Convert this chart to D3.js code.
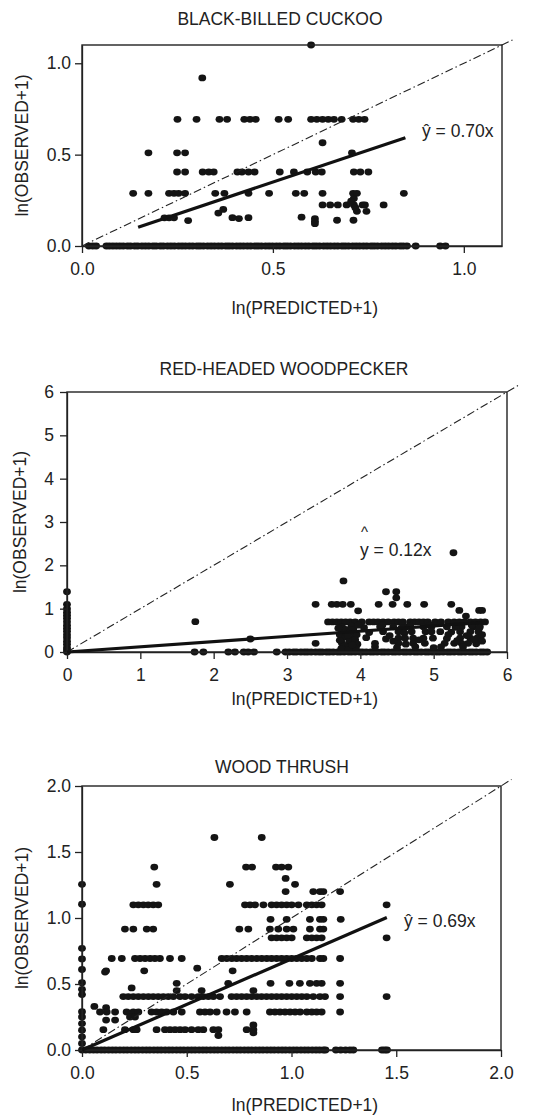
<!DOCTYPE html>
<html>
<head>
<meta charset="utf-8">
<script src="https://cdn.jsdelivr.net/npm/d3@7"></script>
<style>
body { margin: 0; background: #fff; }
svg text { font-family: "Liberation Sans", Arial, sans-serif; fill: #222; }
.axis path, .axis line { stroke: #222; stroke-width: 1.3; }
</style>
</head>
<body>
<div id="vis"></div>
<script>
// Scatter plots of observed vs predicted abundance for three species
//
// Data are read off the figure: each panel has the points lying on the
// y = 0 row, the points lying on the x = 0 column, and the rest as pairs.

/* *************************** Data ***************************** */

// Black-billed cuckoo
var bbcTicks = [0, 0.5, 1.0];
var bbcSlope = 0.70;
var bbcFitRange = [0.147, 0.847];
var bbcZeroX = [0.018, 0.028, 0.037, 0.064, 0.072, 0.081, 0.09, 0.099, 0.108, 0.119, 0.127, 0.138, 0.146,
    0.157, 0.166, 0.175, 0.186, 0.194, 0.205, 0.213, 0.224, 0.233, 0.242, 0.253, 0.262, 0.271, 0.281,
    0.29, 0.301, 0.309, 0.318, 0.329, 0.338, 0.347, 0.357, 0.366, 0.377, 0.385, 0.394, 0.405, 0.414,
    0.423, 0.433, 0.442, 0.453, 0.461, 0.47, 0.481, 0.49, 0.499, 0.509, 0.518, 0.529, 0.537, 0.546,
    0.557, 0.566, 0.575, 0.585, 0.594, 0.605, 0.613, 0.622, 0.633, 0.642, 0.651, 0.661, 0.67, 0.681,
    0.689, 0.698, 0.709, 0.718, 0.727, 0.737, 0.746, 0.757, 0.765, 0.774, 0.785, 0.794, 0.803, 0.813,
    0.822, 0.833, 0.841, 0.851, 0.874, 0.938, 0.952];
var bbcAxisY = [];
var bbcPoints = [
    [0.60, 1.10], [0.315, 0.92],
    [0.25, 0.693], [0.30, 0.693], [0.36, 0.693], [0.38, 0.693], [0.425, 0.693], [0.44, 0.693],
    [0.455, 0.693], [0.515, 0.693], [0.54, 0.693], [0.60, 0.693], [0.615, 0.693], [0.63, 0.693],
    [0.645, 0.693], [0.66, 0.693], [0.68, 0.693], [0.71, 0.693], [0.725, 0.693], [0.74, 0.693],
    [0.63, 0.565],
    [0.174, 0.51], [0.249, 0.51], [0.27, 0.51], [0.707, 0.51],
    [0.249, 0.405], [0.27, 0.405], [0.316, 0.405], [0.332, 0.405], [0.345, 0.405], [0.407, 0.405],
    [0.419, 0.405], [0.436, 0.405], [0.452, 0.405], [0.518, 0.405], [0.555, 0.405], [0.59, 0.405],
    [0.612, 0.405], [0.628, 0.405], [0.712, 0.405], [0.729, 0.405], [0.75, 0.405],
    [0.134, 0.288], [0.174, 0.288], [0.228, 0.288], [0.241, 0.288], [0.253, 0.288], [0.27, 0.288],
    [0.349, 0.288], [0.373, 0.288], [0.436, 0.288], [0.49, 0.288], [0.56, 0.288], [0.582, 0.288],
    [0.63, 0.288], [0.71, 0.288], [0.72, 0.288], [0.843, 0.288],
    [0.63, 0.225], [0.65, 0.225], [0.67, 0.225], [0.693, 0.225], [0.712, 0.225], [0.735, 0.225],
    [0.741, 0.225], [0.79, 0.225],
    [0.712, 0.26], [0.72, 0.19], [0.745, 0.19], [0.716, 0.21], [0.705, 0.245],
    [0.216, 0.154], [0.228, 0.154], [0.241, 0.154], [0.278, 0.139], [0.357, 0.18], [0.37, 0.2],
    [0.394, 0.155], [0.411, 0.15], [0.436, 0.155], [0.575, 0.158], [0.61, 0.15], [0.61, 0.135],
    [0.61, 0.122], [0.668, 0.141], [0.711, 0.141]
];

// Red-headed woodpecker
var rhwTicks = [0, 1, 2, 3, 4, 5, 6];
var rhwSlope = 0.12;
var rhwFitRange = [0, 5.73];
var rhwZeroX = [0, 1.74, 1.86, 2.2, 2.29, 2.41, 2.47, 2.55, 2.86, 2.98, 3.03, 3.09, 3.13, 3.19, 3.24,
    3.28, 3.33, 3.39, 3.44, 3.48, 3.54, 3.58, 3.63, 3.69, 3.73, 3.78, 3.84, 3.88, 3.93, 3.99, 4.03,
    4.08, 4.14, 4.18, 4.23, 4.29, 4.33, 4.38, 4.44, 4.48, 4.53, 4.59, 4.63, 4.68, 4.74, 4.78, 4.83,
    4.89, 4.93, 4.98, 5.04, 5.08, 5.13, 5.19, 5.23, 5.28, 5.34, 5.38, 5.43, 5.49, 5.53, 5.58, 5.64,
    5.68, 5.73];
var rhwAxisY = [1.39, 1.1, 1.0, 0.92, 0.85, 0.78, 0.7, 0.62, 0.55, 0.48, 0.4, 0.33, 0.25, 0.18, 0.1, 0.05];
var rhwPoints = [
    [1.75, 0.70], [2.5, 0.30], [3.77, 1.64], [4.35, 1.39], [4.49, 1.39], [4.49, 1.25], [5.27, 2.29],
    [3.97, 0.95], [5.35, 0.96], [5.44, 0.83], [5.62, 0.96], [5.66, 0.96],
    [3.39, 1.1], [3.61, 1.1], [3.68, 1.1], [3.76, 1.1], [3.87, 1.1], [4.25, 1.1], [4.44, 1.1],
    [4.64, 1.1], [4.87, 1.1], [5.24, 1.1],
    [3.56, 0.693], [3.62, 0.693], [3.68, 0.693], [3.74, 0.693], [3.8, 0.693], [3.86, 0.693],
    [3.93, 0.693], [4.02, 0.693], [4.12, 0.693], [4.18, 0.693], [4.24, 0.693], [4.31, 0.693],
    [4.38, 0.693], [4.46, 0.693], [4.52, 0.693], [4.58, 0.693], [4.68, 0.693], [4.74, 0.693],
    [4.8, 0.693], [4.86, 0.693], [4.92, 0.693], [5.02, 0.693], [5.1, 0.693], [5.2, 0.693],
    [5.28, 0.693], [5.35, 0.693], [5.42, 0.693], [5.5, 0.693], [5.57, 0.693], [5.64, 0.693], [5.7, 0.693],
    [3.75, 0.58], [3.91, 0.58], [4.27, 0.58], [4.45, 0.58], [4.63, 0.58], [4.86, 0.58], [4.97, 0.58],
    [5.18, 0.58], [5.38, 0.58], [5.54, 0.58], [5.63, 0.58], [4.05, 0.56], [4.56, 0.55], [5.3, 0.57],
    [3.75, 0.47], [3.91, 0.47], [4.31, 0.47], [4.52, 0.47], [4.7, 0.47], [4.89, 0.47], [4.97, 0.47],
    [5.09, 0.47], [5.36, 0.47], [5.5, 0.47], [5.61, 0.47], [4.12, 0.45], [4.6, 0.44], [5.24, 0.46],
    [3.75, 0.32], [3.91, 0.32], [4.52, 0.32], [4.61, 0.32], [4.72, 0.32], [4.86, 0.32], [4.99, 0.32],
    [5.36, 0.32], [5.5, 0.32], [4.08, 0.33], [4.35, 0.3], [5.18, 0.31], [5.6, 0.33],
    [3.39, 0.2], [3.75, 0.2], [3.91, 0.2], [4.2, 0.2], [4.52, 0.2], [4.72, 0.2], [4.88, 0.2],
    [5.15, 0.2], [5.38, 0.2], [5.47, 0.2], [4.62, 0.18], [5.28, 0.2], [5.58, 0.19],
    [3.72, 0.4], [3.8, 0.35], [3.85, 0.25], [3.82, 0.12], [3.9, 0.1], [3.95, 0.4], [3.8, 0.52],
    [3.88, 0.6], [3.93, 0.28], [3.78, 0.15], [3.86, 0.45], [3.96, 0.18], [3.72, 0.27], [3.9, 0.52],
    [3.74, 0.08], [3.84, 0.06], [3.94, 0.1], [3.7, 0.55], [3.97, 0.62], [3.83, 0.38], [3.89, 0.16],
    [4.2, 0.12], [4.4, 0.38], [4.45, 0.25], [5.1, 0.12], [5.4, 0.12], [5.55, 0.28], [5.2, 0.4],
    [4.8, 0.28], [5.62, 0.55], [4.5, 0.1], [4.75, 0.12], [5.0, 0.1], [5.45, 0.38], [5.32, 0.26],
    [4.95, 0.62], [4.3, 0.62], [5.52, 0.62], [4.68, 0.6], [5.66, 0.4], [5.66, 0.25]
];

// Wood thrush
var wtTicks = [0, 0.5, 1.0, 1.5, 2.0];
var wtSlope = 0.69;
var wtFitRange = [0, 1.455];
var wtZeroX = [0, 0.018, 0.037, 0.055, 0.072, 0.091, 0.108, 0.127, 0.145, 0.162, 0.181, 0.199, 0.216,
    0.235, 0.253, 0.27, 0.289, 0.307, 0.324, 0.343, 0.361, 0.378, 0.397, 0.415, 0.432, 0.451, 0.469,
    0.486, 0.505, 0.523, 0.54, 0.559, 0.577, 0.594, 0.613, 0.631, 0.648, 0.667, 0.685, 0.702, 0.721,
    0.739, 0.756, 0.775, 0.793, 0.81, 0.829, 0.847, 0.864, 0.883, 0.901, 0.918, 0.937, 0.955, 0.972,
    0.991, 1.009, 1.026, 1.045, 1.063, 1.08, 1.099, 1.117, 1.134, 1.152, 1.162,
    1.212, 1.235, 1.258, 1.279, 1.295, 1.432, 1.445, 1.456];
var wtAxisY = [1.255, 1.104, 0.77, 0.69, 0.61, 0.51, 0.46, 0.42, 0.29, 0.25, 0.2, 0.15, 0.1, 0.05];
var wtPoints = [
    [0.632, 1.61], [0.858, 1.61],
    [0.345, 1.386], [0.783, 1.386], [0.812, 1.386], [0.926, 1.386], [0.953, 1.386], [0.985, 1.386],
    [0.356, 1.255], [0.706, 1.255], [1.017, 1.255], [0.972, 1.3], [0.972, 1.2],
    [1.104, 1.2], [1.136, 1.2], [1.152, 1.2], [1.232, 1.2],
    [0.245, 1.1], [0.269, 1.1], [0.293, 1.1], [0.316, 1.1], [0.34, 1.1], [0.364, 1.1], [0.778, 1.1],
    [0.802, 1.1], [0.826, 1.1], [0.866, 1.1], [0.905, 1.1], [0.929, 1.1], [0.953, 1.1], [0.977, 1.1],
    [1.001, 1.1], [1.033, 1.1], [1.073, 1.1], [1.097, 1.1], [1.12, 1.1], [1.144, 1.1], [1.454, 1.1],
    [0.9, 0.99], [0.977, 0.99], [1.088, 0.99], [1.136, 0.99], [1.152, 0.99], [1.235, 0.99],
    [0.205, 0.916], [0.245, 0.916], [0.309, 0.916], [0.34, 0.916], [0.751, 0.916], [0.794, 0.916],
    [0.897, 0.916], [0.937, 0.916], [0.977, 0.916], [1.009, 0.916], [1.088, 0.916], [1.136, 0.916],
    [1.152, 0.916],
    [0.905, 0.85], [0.929, 0.85], [0.953, 0.85], [0.977, 0.85], [1.001, 0.85], [1.073, 0.85],
    [1.097, 0.85], [1.12, 0.85], [1.144, 0.85], [1.454, 0.85],
    [0.142, 0.693], [0.19, 0.693], [0.253, 0.693], [0.277, 0.693], [0.301, 0.693], [0.325, 0.693],
    [0.348, 0.693], [0.372, 0.693], [0.42, 0.693], [0.476, 0.693], [0.667, 0.693], [0.691, 0.693],
    [0.715, 0.693], [0.738, 0.693], [0.762, 0.693], [0.786, 0.693], [0.81, 0.693], [0.834, 0.693],
    [0.858, 0.693], [0.882, 0.693], [0.905, 0.693], [0.929, 0.693], [0.953, 0.693], [0.977, 0.693],
    [1.001, 0.693], [1.025, 0.693], [1.049, 0.693], [1.073, 0.693], [1.097, 0.693], [1.136, 0.693],
    [1.152, 0.693], [1.232, 0.693],
    [0.11, 0.59], [0.115, 0.6], [0.297, 0.6], [0.55, 0.62], [0.719, 0.6],
    [0.452, 0.505], [0.698, 0.505], [0.9, 0.505], [0.99, 0.505], [1.04, 0.505], [1.088, 0.505],
    [1.12, 0.505], [1.144, 0.505], [1.232, 0.505],
    [0.237, 0.47], [0.452, 0.45], [0.571, 0.45], [0.818, 0.45],
    [0.197, 0.405], [0.221, 0.405], [0.245, 0.405], [0.269, 0.405], [0.293, 0.405], [0.317, 0.405],
    [0.34, 0.405], [0.364, 0.405], [0.388, 0.405], [0.412, 0.405], [0.436, 0.405], [0.468, 0.405],
    [0.492, 0.405], [0.523, 0.405], [0.555, 0.405], [0.579, 0.405], [0.603, 0.405], [0.627, 0.405],
    [0.659, 0.405], [0.714, 0.405], [0.738, 0.405], [0.762, 0.405], [0.786, 0.405], [0.81, 0.405],
    [0.834, 0.405], [0.857, 0.405], [0.881, 0.405], [0.905, 0.405], [0.929, 0.405], [0.953, 0.405],
    [0.977, 0.405], [1.001, 0.405], [1.025, 0.405], [1.049, 0.405], [1.073, 0.405], [1.104, 0.405],
    [1.136, 0.405], [1.16, 0.405], [1.232, 0.405], [1.454, 0.405],
    [0.059, 0.33], [0.115, 0.32],
    [0.086, 0.288], [0.118, 0.288], [0.158, 0.288], [0.213, 0.288], [0.245, 0.288], [0.269, 0.288],
    [0.332, 0.288], [0.356, 0.288], [0.38, 0.288], [0.404, 0.288], [0.436, 0.288], [0.476, 0.288],
    [0.563, 0.288], [0.587, 0.288], [0.611, 0.288], [0.643, 0.288], [0.69, 0.288], [0.73, 0.288],
    [0.786, 0.288], [0.897, 0.288], [0.921, 0.288], [0.945, 0.288], [0.969, 0.288], [0.993, 0.288],
    [1.017, 0.288], [1.041, 0.288], [1.073, 0.288], [1.097, 0.288], [1.12, 0.288], [1.144, 0.288],
    [1.232, 0.288],
    [0.115, 0.227], [0.158, 0.227], [0.229, 0.25], [0.253, 0.25],
    [0.102, 0.154], [0.205, 0.154], [0.245, 0.154], [0.261, 0.154], [0.356, 0.154], [0.396, 0.154],
    [0.42, 0.154], [0.444, 0.154], [0.468, 0.154], [0.492, 0.154], [0.523, 0.154], [0.555, 0.154],
    [0.579, 0.154], [0.627, 0.154], [0.651, 0.154], [0.786, 0.154], [0.818, 0.154],
    [0.651, 0.11], [0.818, 0.19], [0.818, 0.13]
];

/* *************************** Settings ***************************** */

var width = 548;
var height = 1118;
var fontSize = '17.5px';

var panels = [
    {
        title: 'BLACK-BILLED CUCKOO', max: 1.1, ticks: bbcTicks, fmt: d3.format('.1f'),
        zeroX: bbcZeroX, axisY: bbcAxisY, points: bbcPoints, slope: bbcSlope, fit: bbcFitRange,
        eq: 'ŷ = 0.70x', hat: false,
        left: 82, right: 502, top: 45, bottom: 246, yPad: 4,
        titleX: 280, titleY: 25, xLabelY: 314, yLabelX: 22, eqX: 422, eqY: 137
    },
    {
        title: 'RED-HEADED WOODPECKER', max: 6, ticks: rhwTicks, fmt: d3.format('d'),
        zeroX: rhwZeroX, axisY: rhwAxisY, points: rhwPoints, slope: rhwSlope, fit: rhwFitRange,
        eq: 'y = 0.12x', hat: true,
        left: 67, right: 507, top: 392, bottom: 652, yPad: 6,
        titleX: 284, titleY: 375, xLabelY: 705, yLabelX: 20, eqX: 360, eqY: 556
    },
    {
        title: 'WOOD THRUSH', max: 2.0, ticks: wtTicks, fmt: d3.format('.1f'),
        zeroX: wtZeroX, axisY: wtAxisY, points: wtPoints, slope: wtSlope, fit: wtFitRange,
        eq: 'ŷ = 0.69x', hat: false,
        left: 82, right: 501, top: 786, bottom: 1050, yPad: 4,
        titleX: 282, titleY: 773, xLabelY: 1111, yLabelX: 22, eqX: 404, eqY: 927
    }
];

var svg = d3.select('#vis')
    .append('svg')
    .attr('width', width)
    .attr('height', height);

/* *************************** Draw function ***************************** */

var drawPanel = function(p) {
    var xScale = d3.scaleLinear().domain([0, p.max]).range([p.left, p.right]);
    var yScale = d3.scaleLinear().domain([0, p.max]).range([p.bottom, p.top]);

    var g = svg.append('g');

    // title
    g.append('text')
        .attr('x', p.titleX)
        .attr('y', p.titleY)
        .attr('text-anchor', 'middle')
        .style('font-size', fontSize)
        .text(p.title);

    // points: zero row, zero column, then the rest
    var data = p.zeroX.map(function(x) { return [x, 0]; })
        .concat(p.axisY.map(function(y) { return [0, y]; }))
        .concat(p.points);

    g.selectAll('ellipse')
        .data(data)
        .enter().append('ellipse')
        .attr('cx', function(d) { return xScale(d[0]); })
        .attr('cy', function(d) { return yScale(d[1]); })
        .attr('rx', 3.9)
        .attr('ry', 3.4)
        .style('fill', '#141414');

    // frame
    g.append('rect')
        .attr('x', p.left)
        .attr('y', p.top)
        .attr('width', p.right - p.left)
        .attr('height', p.bottom - p.top)
        .style('fill', 'none')
        .style('stroke', '#222')
        .style('stroke-width', 1.4);

    // axes
    var xAxis = d3.axisBottom(xScale)
        .tickValues(p.ticks)
        .tickFormat(p.fmt)
        .tickSize(7)
        .tickSizeOuter(0)
        .tickPadding(10);
    var yAxis = d3.axisLeft(yScale)
        .tickValues(p.ticks)
        .tickFormat(p.fmt)
        .tickSize(7)
        .tickSizeOuter(0)
        .tickPadding(p.yPad);

    g.append('g')
        .attr('class', 'axis')
        .attr('transform', 'translate(0,' + p.bottom + ')')
        .call(xAxis)
        .selectAll('text')
        .style('font-size', fontSize)
        .style('fill', '#222');

    g.append('g')
        .attr('class', 'axis')
        .attr('transform', 'translate(' + p.left + ',0)')
        .call(yAxis)
        .selectAll('text')
        .style('font-size', fontSize)
        .style('fill', '#222');

    // 1:1 reference line, running a little past the corner
    g.append('line')
        .attr('x1', xScale(0))
        .attr('y1', yScale(0))
        .attr('x2', xScale(p.max * 1.025))
        .attr('y2', yScale(p.max * 1.025))
        .style('stroke', '#222')
        .style('stroke-width', 1.1)
        .style('stroke-dasharray', '8,3,1.5,3');

    // fitted line through the origin
    g.append('line')
        .attr('x1', xScale(p.fit[0]))
        .attr('y1', yScale(p.fit[0] * p.slope))
        .attr('x2', xScale(p.fit[1]))
        .attr('y2', yScale(p.fit[1] * p.slope))
        .style('stroke', '#111')
        .style('stroke-width', 3.2);

    // equation
    g.append('text')
        .attr('x', p.eqX)
        .attr('y', p.eqY)
        .style('font-size', fontSize)
        .text(p.eq);
    if (p.hat) {
        // caret set on its own line above the y
        g.append('text')
            .attr('x', p.eqX + 4.5)
            .attr('y', p.eqY - 19)
            .attr('text-anchor', 'middle')
            .style('font-size', '15px')
            .text('^');
    }

    // axis titles
    g.append('text')
        .attr('x', 305)
        .attr('y', p.xLabelY)
        .attr('text-anchor', 'middle')
        .style('font-size', fontSize)
        .text('ln(PREDICTED+1)');

    g.append('text')
        .attr('transform', 'translate(' + p.yLabelX + ',' + ((p.top + p.bottom) / 2) + ') rotate(-90)')
        .attr('text-anchor', 'middle')
        .attr('dy', '0.35em')
        .style('font-size', fontSize)
        .text('ln(OBSERVED+1)');
};

panels.forEach(drawPanel);
</script>
</body>
</html>
